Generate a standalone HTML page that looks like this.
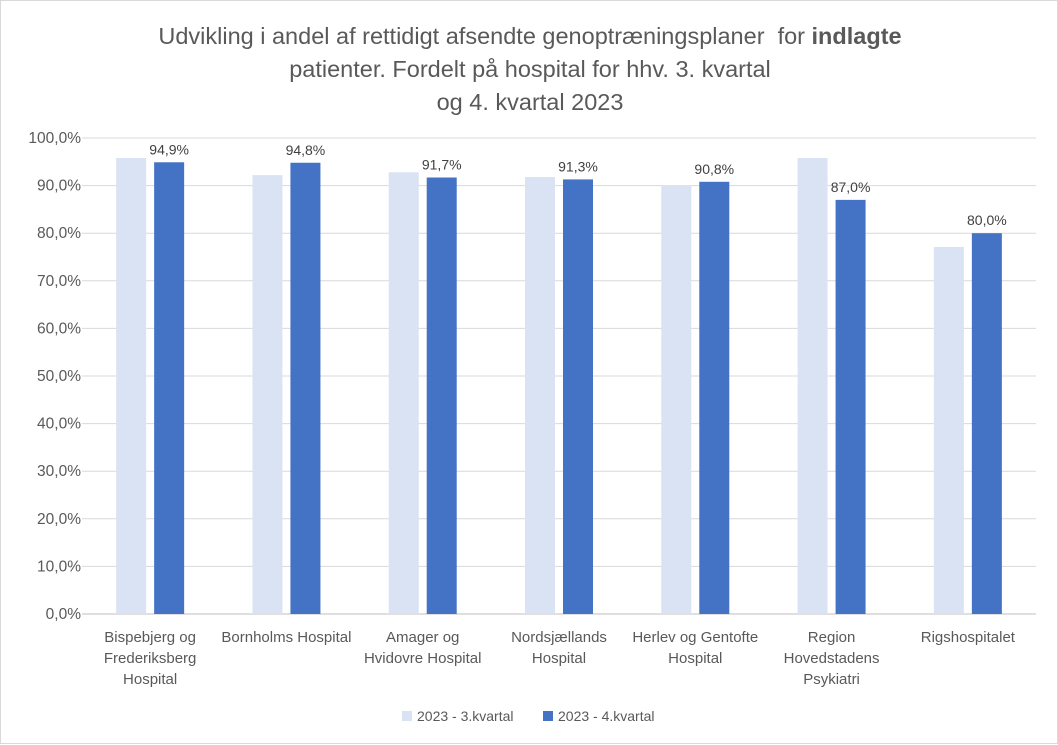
<!DOCTYPE html>
<html><head><meta charset="utf-8"><style>
body{margin:0;background:#fff;font-family:"Liberation Sans",sans-serif;}
#wrap{position:relative;width:1058px;height:744px;box-sizing:border-box;border:1px solid #d9d9d9;background:#fff}
.title{position:absolute;left:0;width:1058px;top:19px;text-align:center;font-size:23.5px;line-height:33px;color:#595959}
</style></head><body>
<div id="wrap">
<div class="title">Udvikling i andel af rettidigt afsendte genoptræningsplaner&nbsp; for <b>indlagte</b><br>patienter. Fordelt på hospital for hhv. 3. kvartal<br>og 4. kvartal 2023</div>
<svg id="svg" width="1058" height="744" style="position:absolute;left:0;top:0"></svg>
</div>
<script>
const categories=[["Bispebjerg og","Frederiksberg","Hospital"],["Bornholms Hospital"],["Amager og","Hvidovre Hospital"],["Nordsjællands","Hospital"],["Herlev og Gentofte","Hospital"],["Region","Hovedstadens","Psykiatri"],["Rigshospitalet"]];
const q3Values=[95.8,92.2,92.8,91.8,90.1,95.8,77.1];
const q4Values=[94.9,94.8,91.7,91.3,90.8,87.0,80.0];
const q4Labels=["94,9%","94,8%","91,7%","91,3%","90,8%","87,0%","80,0%"];
const yTicks=[0,10,20,30,40,50,60,70,80,90,100];
const seriesNames=["2023 - 3.kvartal","2023 - 4.kvartal"];

const svg=document.getElementById('svg');
const NS='http://www.w3.org/2000/svg';
const X0=81,X1=1035,Y0=613,Y1=137;
const y=v=>Y0-(v/100)*(Y0-Y1);
const band=(X1-X0)/categories.length;
const cx=i=>X0+band*(i+0.5);
function mk(t,a){const e=document.createElementNS(NS,t);for(const k in a)e.setAttribute(k,a[k]);svg.appendChild(e);return e;}
yTicks.forEach(t=>{
 const l=mk('line',{x1:X0,x2:X1,y1:y(t),y2:y(t),stroke:t===0?'#bfbfbf':'#d9d9d9','stroke-width':1});
 
 
 const tx=mk('text',{x:X0-1,y:y(t)+5,'text-anchor':'end','font-size':15.5,fill:'#595959'});
 tx.textContent=t.toFixed(1).replace('.',',')+'%';
 
 
});
const bw=30,gap=8;
categories.forEach((c,i)=>{
 const b3=mk('rect',{x:cx(i)-gap/2-bw,y:y(q3Values[i]),width:bw,height:Y0-y(q3Values[i]),fill:'#dae3f3'});
 
 
 const b4=mk('rect',{x:cx(i)+gap/2,y:y(q4Values[i]),width:bw,height:Y0-y(q4Values[i]),fill:'#4472c4'});
 
 
 const lb=mk('text',{x:cx(i)+gap/2+bw/2,y:y(q4Values[i])-8,'text-anchor':'middle','font-size':14,fill:'#404040'});
 lb.textContent=q4Labels[i];
 
 
 c.forEach((s,j)=>{
  const t=mk('text',{x:cx(i),y:641+j*21,'text-anchor':'middle','font-size':15,fill:'#595959'});
  t.textContent=s;
  
  
 });
});
const lg=[{x:401,c:'#dae3f3'},{x:542,c:'#4472c4'}];
lg.forEach((g,k)=>{
 const r=mk('rect',{x:g.x,y:710,width:10,height:10,fill:g.c});
 
 
 const t=mk('text',{x:g.x+15,y:720,'font-size':14,fill:'#595959'});
 t.textContent=seriesNames[k];
 
 
});
</script>
</body></html>
